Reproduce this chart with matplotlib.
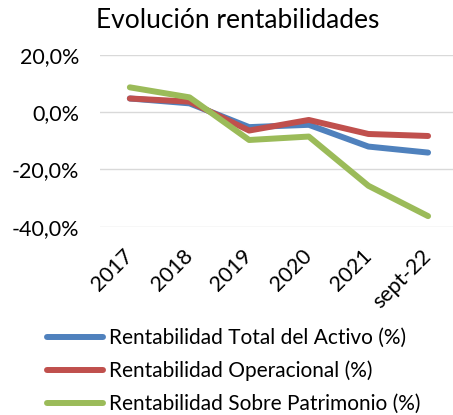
import matplotlib
matplotlib.use("Agg")
from matplotlib import pyplot as plt
from matplotlib import ticker

plt.rcParams["font.family"] = ["Lato", "DejaVu Sans"]

years = ["2017", "2018", "2019", "2020", "2021", "sept-22"]
total_activo = [4.8, 3.1, -5.2, -4.4, -12.0, -14.1]
operacional = [4.8, 3.7, -6.4, -2.7, -7.6, -8.3]
patrimonio = [8.7, 5.2, -9.7, -8.5, -25.7, -36.3]

series = [
    ("Rentabilidad Total del Activo (%)", total_activo, "#4F81BD"),
    ("Rentabilidad Operacional (%)", operacional, "#C0504D"),
    ("Rentabilidad Sobre Patrimonio (%)", patrimonio, "#9BBB59"),
]

fig = plt.figure(figsize=(4.53, 4.15), dpi=100)
ax = fig.add_axes([0.2208, 0.4537, 0.79, 0.4138])

x = list(range(len(years)))
for label, vals, color in series:
    ax.plot(x, vals, color=color, lw=4.3, label=label, solid_capstyle="round",
            solid_joinstyle="round")

ax.set_xlim(-0.5, len(years) - 0.5)
ax.set_ylim(-40, 20)
ax.set_yticks([-40, -20, 0, 20])
ax.yaxis.set_major_formatter(ticker.FuncFormatter(lambda v, p: ("%.1f%%" % v).replace(".", ",")))
ax.grid(axis="y", color="#D9D9D9", lw=1)
ax.set_axisbelow(True)
for s in ax.spines.values():
    s.set_visible(False)
ax.tick_params(axis="both", length=0, labelsize=15.5, colors="black")
ax.tick_params(axis="y", pad=15)
ax.set_xticks(x)
ax.set_xticklabels(years, rotation=45, ha="right", va="center", rotation_mode="anchor")
ax.tick_params(axis="x", pad=19)

fig.text(0.525, 0.95, "Evolución rentabilidades", ha="center", va="center", fontsize=19)

leg = ax.legend(loc="upper left", bbox_to_anchor=(0.104, 0.21), bbox_transform=fig.transFigure,
                frameon=False, fontsize=15, handlelength=2.7, handletextpad=0.25,
                labelspacing=0.62, borderpad=0, borderaxespad=0)

fig.savefig("out.png", dpi=100)
